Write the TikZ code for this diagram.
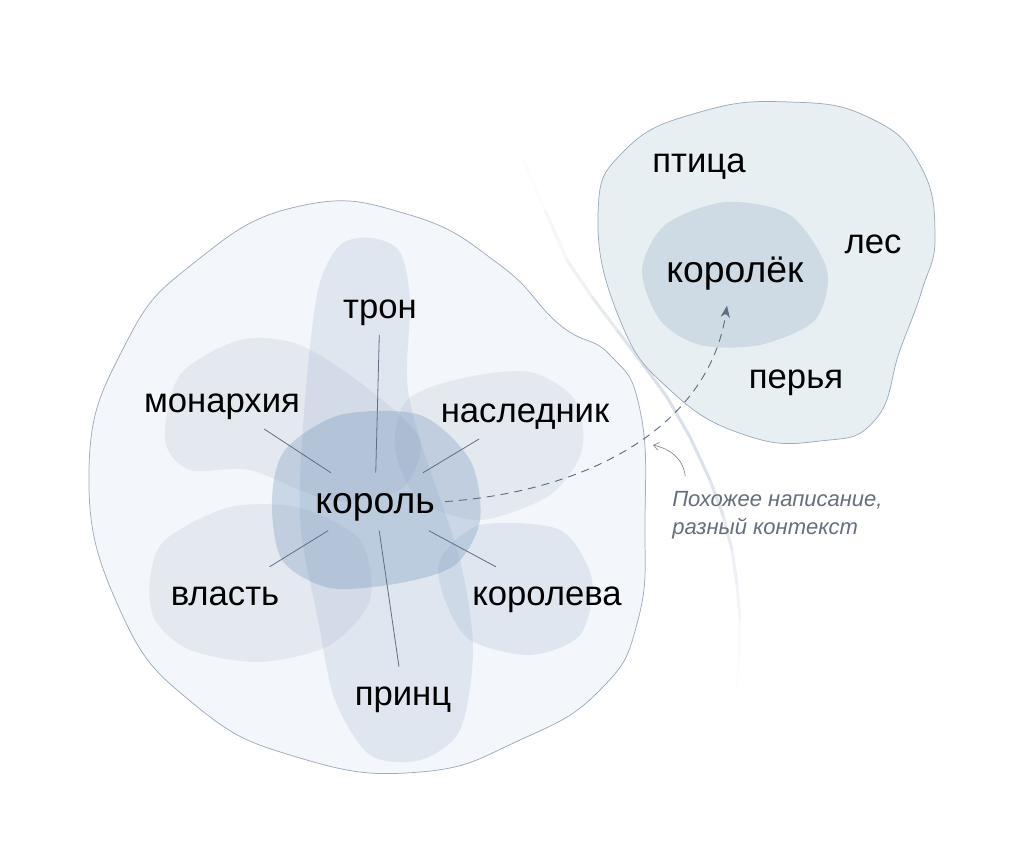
\documentclass[tikz,border=0pt]{standalone}
\usepackage{fontspec}
\setmainfont{Liberation Sans}
\usetikzlibrary{arrows.meta}

\definecolor{cloudfill}{RGB}{243,246,250}
\definecolor{cloudline}{RGB}{156,170,188}
\definecolor{birdfill}{RGB}{231,239,243}
\definecolor{birdcore}{RGB}{206,219,228}
\definecolor{petal}{RGB}{110,145,185}
\definecolor{petalgray}{RGB}{140,154,180}
\definecolor{link}{RGB}{95,110,130}
\definecolor{notegray}{RGB}{100,110,125}
\definecolor{rim}{RGB}{190,201,217}

\tikzset{
  word/.style={font=\fontsize{26}{30}\selectfont, text height=21pt, text depth=5pt, inner sep=7.5pt, anchor=base},
  headword/.style={word, font=\fontsize{28}{32}\selectfont, text height=22.5pt, text depth=5.5pt},
  petalfill/.style={fill=petal, fill opacity=0.15},
  graypetal/.style={fill=petalgray, fill opacity=0.14},
  tie/.style={draw=link, line width=0.6pt},
}

\begin{document}
\begin{tikzpicture}[x=0.75pt,y=-0.75pt]
\useasboundingbox (0,0) rectangle (1024,847);

% faint divider between the two senses, fading at both ends
\foreach \xa/\ya/\xb/\yb/\o in {523/160/545/210/0.06, 545/210/567/260/0.15, 567/260/592/297/0.25,
  592/297/617/330/0.38, 617/330/642/363/0.5, 642/363/667/397/0.58, 667/397/690/437/0.58,
  690/437/710/480/0.55, 710/480/723/515/0.48, 723/515/732/550/0.38, 732/550/737/585/0.28,
  737/585/740/620/0.18, 740/620/739/655/0.1, 739/655/737/690/0.04}
  \draw[rim, line width=2.3pt, draw opacity=\o] (\xa,\ya) -- (\xb,\yb);

% royal cloud
\filldraw[fill=cloudfill, draw=cloudline, line width=0.55pt] plot[smooth cycle, tension=0.8] coordinates
  {(89,470) (125,345) (195,262) (300,206) (410,215) (500,265) (560,325) (610,355) (640,410) (645,520) (638,620) (600,690) (520,740) (420,772) (300,758) (195,705) (120,610)};
\fill[graypetal] plot[smooth cycle] coordinates
  {(165,440) (180,375) (240,340) (300,345) (370,390) (420,440) (400,490) (330,500) (250,470) (190,470)};
\fill[graypetal] plot[smooth cycle] coordinates
  {(150,580) (165,540) (230,507) (300,508) (360,540) (370,600) (330,645) (260,662) (190,650) (155,620)};
\fill[petalfill] plot[smooth cycle] coordinates
  {(318,290) (340,245) (372,238) (400,252) (410,300) (407,380) (420,440) (460,560) (473,650) (460,730) (420,760) (370,755) (335,700) (318,620) (300,520) (305,400)};
\fill[graypetal] plot[smooth cycle] coordinates
  {(407,400) (463,378) (530,372) (575,400) (582,450) (550,495) (480,520) (420,500) (395,450)};
\fill[petalfill] plot[smooth cycle] coordinates
  {(440,560) (480,525) (560,530) (592,580) (580,635) (530,655) (470,640) (445,600)};
\fill[petal, fill opacity=0.3] plot[smooth cycle] coordinates
  {(285,450) (340,415) (420,415) (470,460) (480,520) (455,565) (400,583) (330,588) (282,560) (272,500)};

% bird cloud
\filldraw[fill=birdfill, draw=cloudline, line width=0.55pt] plot[smooth cycle, tension=0.8] coordinates
  {(598,215) (625,150) (700,112) (790,102) (870,118) (920,165) (935,235) (922,290) (900,350) (875,420) (820,441) (745,435) (670,390) (620,320)};
\fill[birdcore] plot[smooth cycle] coordinates
  {(642,270) (665,225) (725,202) (790,215) (827,270) (815,320) (760,345) (700,345) (660,320)};

% words
\node[headword] (king) at (375,513) {король};
\node[word] (throne) at (380,318) {трон};
\node[word] (monarchy) at (222,412) {монархия};
\node[word] (heir) at (525,422) {наследник};
\node[word] (power) at (225,605) {власть};
\node[word] (queen) at (547,605) {королева};
\node[word] (prince) at (403,705) {принц};
\node[headword] (korolek) at (735,282) {королёк};
\node[word] (bird) at (699,172) {птица};
\node[word] (forest) at (873,253) {лес};
\node[word] (feathers) at (796,388) {перья};
\node[anchor=north west, inner sep=0pt, align=left, text=notegray,
  font=\itshape\fontsize{16.5}{21}\selectfont] (note) at (672,491) {Похожее написание,\\разный контекст};
\coordinate (gap) at (653,445);

% ties
\foreach \w in {throne,monarchy,heir,power,queen,prince} \draw[tie] (king) -- (\w);
\draw[link, line width=0.7pt, dash pattern=on 6pt off 4.5pt, -{Stealth[length=9pt,width=7pt]}]
  (king.east) .. controls (600,490) and (710,420) .. ([xshift=-6pt,yshift=-4.5pt]korolek.south);
\draw[notegray!80, line width=0.5pt, -{Straight Barb[length=4pt,width=6pt]}]
  ([xshift=10pt,yshift=11pt]note.north west) .. controls (683,458) and (670,449) .. (gap);
\end{tikzpicture}
\end{document}
